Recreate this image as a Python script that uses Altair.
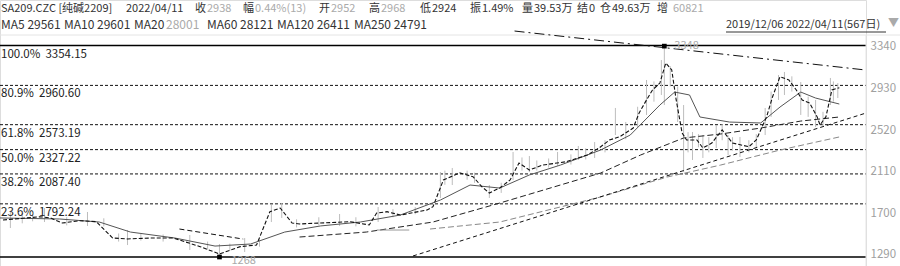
import altair as alt
import pandas as pd

# ---------------- data ----------------
# price path (MA5-like) : bar index (0..566) and price
bar_idx = [2,27,34,42,54,65,76,86,101,117,135,148,162,173,182,189,197,202,216,236,
           249,254,261,270,288,292,299,310,319,325,330,337,344,350,357,366,382,396,404,411,
           418,427,431,436,440,445,449,453,456,460,463,470,474,480,487,494,505,510,517,521,
           526,532,537,541,546,551,553,557,561,566]
close_val = [1633,1665,1653,1603,1626,1616,1455,1446,1455,1455,1370,1298,1370,1386,1715,1751,1603,1594,1603,1616,
             1584,1702,1715,1682,1732,1764,2028,2097,2060,1961,1899,1949,2028,2195,2126,2175,2208,2274,2343,2422,
             2455,2540,2688,2817,2915,2984,3182,3113,2817,2491,2422,2422,2343,2392,2521,2392,2356,2422,2652,2849,
             3046,3014,2915,2817,2787,2652,2570,2652,2915,2938]

# candle wicks (bar index, high, low)
wick_idx = [7,30,59,86,128,148,165,183,190,229,255,297,305,330,346,357,376,390,401,415,
            436,446,448,461,467,474,483,491,499,516,525,529,540,550,560,565,
            15,22,45,70,80,95,110,140,155,175,200,215,240,265,280,300,315,320,338,352,
            362,370,385,395,408,422,430,441,452,457,464,471,478,487,494,505,510,520,534,545,555,562]
wick_hi = [1712,1751,1712,1534,1485,1396,1455,1781,1800,1692,1761,2106,2146,1978,2304,2264,2304,2363,2402,2738,
           3014,3211,3348,2767,2501,2471,2570,2471,2452,2738,3063,3093,2994,2817,3034,2984,
           1700,1690,1660,1650,1500,1500,1490,1420,1400,1440,1640,1660,1660,1740,1760,2120,2120,2100,2000,2250,
           2220,2240,2280,2340,2420,2600,2750,3000,3150,2950,2500,2480,2450,2580,2450,2420,2480,2900,3050,2850,2700,3000]
wick_lo = [1554,1613,1574,1386,1337,1268,1317,1613,1653,1574,1613,1850,1978,1850,2027,2106,2166,2225,2245,2471,
           2669,2866,2767,2106,2225,2245,2343,2274,2254,2471,2817,2866,2669,2550,2767,2836,
           1600,1620,1580,1570,1420,1430,1420,1340,1330,1370,1560,1580,1570,1660,1690,1980,2030,2000,1900,2120,
           2120,2150,2180,2230,2300,2430,2550,2800,2950,2600,2300,2350,2300,2420,2320,2300,2350,2650,2900,2650,2560,2800]

ma20_idx = [0,40,67,88,118,145,169,192,216,243,270,297,317,337,357,378,405,425,445,455,465,472,492,513,526,540,550,566]
ma20_val = [1653,1643,1613,1514,1455,1376,1396,1514,1574,1613,1682,1830,1978,1948,2077,2175,2323,2471,2767,2895,
            2866,2649,2599,2590,2747,2895,2836,2777]

ma60_idx = [202,247,292,337,405,432,461,486,513,540,566]
ma60_val = [1465,1514,1613,1800,2096,2274,2442,2481,2540,2609,2649]

ma120_idx = [290,337,405,450,486,526,566]
ma120_val = [1544,1613,1860,2057,2175,2323,2452]

trend_up_idx = [278.5, 584]
trend_up_val = [1278, 2688]
trend_dn_idx = [347, 584]
trend_dn_val = [3497, 3112]
seg_a_idx = [121, 164]
seg_a_val = [1544, 1445]
seg_b_idx = [254, 276]
seg_b_val = [1534, 1534]

fib_pct = ["100.0%", "80.9%", "61.8%", "50.0%", "38.2%", "23.6%"]
fib_val = [3354.15, 2960.60, 2573.19, 2327.22, 2087.40, 1792.24]
fib_zero = 1268

axis_ticks = [3340, 2930, 2520, 2110, 1700, 1290]

ext_idx = [448, 148]
ext_val = [3348, 1268]
ext_lbl = ["3348", "1268"]

# ---------------- chart ----------------
W, H = 866, 266
FONT = "Noto Sans CJK SC"
xs = alt.Scale(domain=[0, 584], nice=False, zero=False)
ys = alt.Scale(domain=[1179.2, 3803], nice=False, zero=False)
yaxis = alt.Axis(orient="right", values=axis_ticks, grid=False, domain=False, ticks=False, format="d",
                 labelColor="#a0a0a0", labelFontSize=11.5, labelFont=FONT, labelPadding=4, title=None)


def X(f):
    return alt.X(f, scale=xs, axis=None)


def Y(f):
    return alt.Y(f, scale=ys, axis=yaxis)


def line_layer(idx, val, **kw):
    df = pd.DataFrame({"i": idx, "v": val})
    return alt.Chart(df).mark_line(**kw).encode(x=X("i:Q"), y=Y("v:Q"))


NB = "\u00a0\u00a0"
fib_df = pd.DataFrame({"v": fib_val, "pct": fib_pct,
                       "lbl": [f"{p}{NB}{v:.2f}" for p, v in zip(fib_pct, fib_val)]})
fib_dashed = alt.Chart(fib_df.iloc[1:]).mark_rule(color="#111", strokeWidth=1, strokeDash=[3, 2]).encode(
    y=Y("v:Q"), x=alt.value(0), x2=alt.value(W))
solid_df = pd.DataFrame({"v": [fib_val[0], fib_zero]})
fib_solid = alt.Chart(solid_df).mark_rule(color="#000", strokeWidth=1.3).encode(
    y=Y("v:Q"), x=alt.value(0), x2=alt.value(W))
fib_text = alt.Chart(fib_df).mark_text(align="left", baseline="middle", dy=9, font=FONT,
                                       fontSize=11.5, color="#222").encode(
    y=Y("v:Q"), x=alt.value(1), text="lbl:N")

wick_df = pd.DataFrame({"i": wick_idx, "hi": wick_hi, "lo": wick_lo})
wicks = alt.Chart(wick_df).mark_rule(color="#bdbdbd", strokeWidth=1).encode(
    x=X("i:Q"), y=Y("lo:Q"), y2="hi:Q")

ma20 = line_layer(ma20_idx, ma20_val, color="#555", strokeWidth=1)
ma60 = line_layer(ma60_idx, ma60_val, color="#222", strokeWidth=1, strokeDash=[6, 3])
ma120 = line_layer(ma120_idx, ma120_val, color="#888", strokeWidth=1, strokeDash=[6, 3])
price = line_layer(bar_idx, close_val, color="#111", strokeWidth=1.1, strokeDash=[4, 2])
t_up = line_layer(trend_up_idx, trend_up_val, color="#111", strokeWidth=1, strokeDash=[4, 3])
t_dn = line_layer(trend_dn_idx, trend_dn_val, color="#111", strokeWidth=1, strokeDash=[10, 4, 2, 4])
s_a = line_layer(seg_a_idx, seg_a_val, color="#111", strokeWidth=1, strokeDash=[5, 3])
s_b = line_layer(seg_b_idx, seg_b_val, color="#999", strokeWidth=1)

ext_df = pd.DataFrame({"i": ext_idx, "v": ext_val, "t": ext_lbl})
ext_pts = alt.Chart(ext_df).mark_square(size=22, color="#000", opacity=1).encode(x=X("i:Q"), y=Y("v:Q"))
ext_txt_hi = alt.Chart(ext_df.iloc[:1]).mark_text(align="left", baseline="middle", dx=10, dy=0,
                                                  font=FONT, fontSize=11, color="#aaa").encode(
    x=X("i:Q"), y=Y("v:Q"), text="t:N")
ext_txt_lo = alt.Chart(ext_df.iloc[1:]).mark_text(align="left", baseline="middle", dx=12, dy=4,
                                                  font=FONT, fontSize=11, color="#aaa").encode(
    x=X("i:Q"), y=Y("v:Q"), text="t:N")

# header (layout positions in px)
DARK, GRAY = "#333", "#aaa"
R1, R2 = 9, 25
header_chunks = [
    ("SA209.CZC [纯碱2209]", 1, R1, DARK, 11), ("2022/04/11", 126, R1, DARK, 11),
    ("收", 195, R1, DARK, 11), ("2938", 207, R1, GRAY, 11),
    ("幅", 243, R1, DARK, 11), ("0.44%(13)", 255, R1, GRAY, 11),
    ("开", 319, R1, DARK, 11), ("2952", 331, R1, GRAY, 11),
    ("高", 369, R1, DARK, 11), ("2968", 381, R1, GRAY, 11),
    ("低", 420, R1, DARK, 11), ("2924", 432, R1, DARK, 11),
    ("振", 470, R1, DARK, 11), ("1.49%", 482, R1, DARK, 11),
    ("量", 522, R1, DARK, 11), ("39.53万", 534, R1, DARK, 11),
    ("结", 577, R1, DARK, 11), ("0", 589, R1, DARK, 11),
    ("仓", 600, R1, DARK, 11), ("49.63万", 612, R1, DARK, 11),
    ("增", 657, R1, DARK, 11), ("60821", 673, R1, GRAY, 11),
    ("MA5 29561", 1, R2, DARK, 12), ("MA10 29601", 64, R2, DARK, 12),
    ("MA20", 134, R2, DARK, 12), ("28001", 166, R2, GRAY, 12),
    ("MA60 28121", 207, R2, DARK, 12), ("MA120 26411", 277, R2, DARK, 12),
    ("MA250 24791", 354, R2, DARK, 12),
    ("2019/12/06 2022/04/11(567日)", 726, R2, DARK, 11), ("▼", 888, R2 - 1, "#aaa", 11),
]
header_layers = []
for txt, px, py, col, fs in header_chunks:
    header_layers.append(
        alt.Chart(pd.DataFrame({"t": [txt]})).mark_text(
            align="left", baseline="middle", font=FONT, fontSize=fs, color=col).encode(
            x=alt.value(px), y=alt.value(py), text="t:N"))

underline = alt.Chart(pd.DataFrame({"a": [0]})).mark_rule(color="#333", strokeWidth=1).encode(
    x=alt.value(726), x2=alt.value(886), y=alt.value(32))
sep_h = alt.Chart(pd.DataFrame({"a": [0]})).mark_rule(color="#e4e4e4", strokeWidth=1).encode(
    x=alt.value(0), x2=alt.value(900), y=alt.value(35))
sep_v = alt.Chart(pd.DataFrame({"a": [0]})).mark_rule(color="#e4e4e4", strokeWidth=1).encode(
    x=alt.value(W), y=alt.value(35), y2=alt.value(H))

chart = alt.layer(
    fib_dashed, fib_solid, sep_h, sep_v, wicks, ma120, ma60, ma20, s_a, s_b, t_up, t_dn, price,
    fib_text, ext_pts, ext_txt_hi, ext_txt_lo, underline, *header_layers
).properties(
    width=W, height=H,
    padding={"left": 0, "top": 0, "right": 34, "bottom": 0},
    autosize=alt.AutoSizeParams(type="none"),
).configure_view(stroke=None).configure(background="white")

chart.save("out.html", embed_options={"renderer": "svg", "actions": False})
